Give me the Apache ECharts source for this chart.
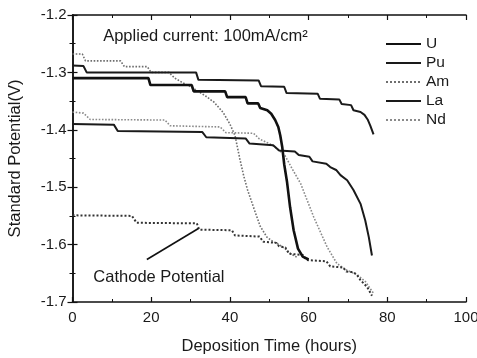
<!DOCTYPE html>
<html>
<head>
<meta charset="utf-8">
<script src="https://cdn.jsdelivr.net/npm/echarts@6/dist/echarts.min.js"></script>
<style>html,body{margin:0;padding:0;background:#fff}#c{width:477px;height:358px}</style>
</head>
<body>
<div id="c"></div>
<script>
// ---- data (hours, V) ----
const uX  = [0, 19.3, 19.8, 30.3, 30.8, 38.8, 39.3, 44, 44.5, 47.2, 47.7, 49.5, 50.5, 51.5, 52.3, 52.8, 53.3, 53.8, 54.5, 55.3, 56.2, 57.3, 58.5, 60];
const uY  = [-1.31, -1.31, -1.322, -1.322, -1.333, -1.333, -1.343, -1.343, -1.354, -1.354, -1.362, -1.366, -1.372, -1.383, -1.395, -1.41, -1.43, -1.46, -1.49, -1.535, -1.575, -1.607, -1.621, -1.626];
const puX = [0, 2.8, 3.6, 31.4, 32, 47.3, 47.9, 53.8, 54.4, 62.3, 62.9, 67.8, 68.4, 70.8, 71.4, 73.2, 74.2, 75, 75.7, 76.5];
const puY = [-1.288, -1.289, -1.300, -1.300, -1.313, -1.314, -1.324, -1.325, -1.336, -1.337, -1.346, -1.347, -1.355, -1.357, -1.366, -1.369, -1.374, -1.382, -1.393, -1.408];
const amX = [0, 2.5, 3.3, 12.2, 13.2, 19, 20, 24.5, 26, 28, 30, 32, 34, 36, 38.3, 40, 41.3, 42.5, 43.5, 44.5, 46, 47.7, 49.4, 51, 52.5, 54, 55.5, 57];
const amY = [-1.268, -1.268, -1.28, -1.28, -1.29, -1.29, -1.30, -1.30, -1.31, -1.318, -1.325, -1.333, -1.342, -1.352, -1.37, -1.39, -1.41, -1.45, -1.48, -1.505, -1.535, -1.568, -1.587, -1.595, -1.60, -1.607, -1.616, -1.622];
const laX = [0, 10.5, 11.5, 33, 34, 44, 45, 51, 52.5, 56.5, 57.5, 60.2, 61, 64.5, 65.5, 67, 68.1, 69.8, 71.4, 73.2, 74.4, 75.3, 76.1];
const laY = [-1.39, -1.391, -1.402, -1.404, -1.413, -1.415, -1.424, -1.427, -1.436, -1.438, -1.444, -1.447, -1.455, -1.459, -1.465, -1.47, -1.479, -1.488, -1.505, -1.529, -1.558, -1.587, -1.619];
const ndX = [0, 2.8, 4.5, 23.5, 24.8, 37.5, 39, 46, 47.5, 50, 51.5, 54, 56, 58, 61.3, 64.7, 67.2, 69.8, 72.3, 74.5, 76.5];
const ndY = [-1.369, -1.371, -1.382, -1.383, -1.393, -1.395, -1.405, -1.406, -1.416, -1.424, -1.43, -1.445, -1.47, -1.494, -1.552, -1.604, -1.633, -1.645, -1.652, -1.665, -1.685];
const caX = [0, 15.1, 16.3, 31.6, 32.2, 40.5, 41.3, 47.5, 48.5, 51.8, 52.5, 54.1, 55, 58.5, 59.5, 64.5, 65.5, 68.8, 69.6, 71.2, 72.2, 73.2, 74.9, 76.1];
const caY = [-1.549, -1.55, -1.562, -1.563, -1.574, -1.575, -1.584, -1.586, -1.595, -1.597, -1.603, -1.605, -1.616, -1.618, -1.627, -1.629, -1.638, -1.64, -1.647, -1.648, -1.652, -1.662, -1.674, -1.689];
const legendNames = ['U', 'Pu', 'Am', 'La', 'Nd'];
const xTicks = {min: 0, max: 100, interval: 20};
const yTicks = {min: -1.7, max: -1.2, interval: 0.1};
const annotationText = 'Applied current: 100mA/cm\u00B2';
const cathodeText = 'Cathode Potential';

const pairs = (xs, ys) => xs.map((x, i) => [x, ys[i]]);
const FONT = 'Arial, "Liberation Sans", sans-serif';
const TXT = '#1a1a1a';

function axisBase(extra) {
  return Object.assign({
    axisLine: {show: true, lineStyle: {color: '#111', width: 1.5}},
    axisTick: {show: true, inside: true, length: 5, lineStyle: {color: '#111', width: 1.2}},
    minorTick: {show: true, splitNumber: 2, length: 3, lineStyle: {color: '#111', width: 1}},
    splitLine: {show: false},
    axisLabel: {show: false}
  }, extra);
}

function lineSeries(name, data, color, width, type, z) {
  return {
    name, type: 'line', data, symbol: 'none', showSymbol: false, z: z || 2,
    lineStyle: {color, width, type}, itemStyle: {color}, animation: false
  };
}

const chart = echarts.init(document.getElementById('c'), null, {renderer: 'canvas'});
const series = [
  lineSeries('U', pairs(uX, uY), '#111', 2.6, 'solid', 5),
  lineSeries('Pu', pairs(puX, puY), '#1a1a1a', 2.0, 'solid', 4),
  lineSeries('Am', pairs(amX, amY), '#6e6e6e', 1.6, 'dotted', 3),
  lineSeries('La', pairs(laX, laY), '#1a1a1a', 2.0, 'solid', 4),
  lineSeries('Nd', pairs(ndX, ndY), '#8a8a8a', 1.6, 'dotted', 3),
  Object.assign(lineSeries('Cathode', pairs(caX, caY), '#333', 2.0, 'dotted', 3), {
    markLine: {
      silent: true, animation: false,
      symbol: ['none', 'arrow'], symbolSize: [0, 9],
      lineStyle: {color: '#111', width: 1.6, type: 'solid'},
      label: {show: false},
      data: [[{coord: [18.9, -1.626]}, {coord: [32, -1.572]}]]
    },
    markPoint: {
      silent: true, animation: false, symbol: 'circle', symbolSize: 0,
      data: [
        {coord: [5.3, -1.658], label: {show: true, formatter: cathodeText, position: 'right', distance: 0,
          color: TXT, fontSize: 16.5, fontFamily: FONT}},
        {coord: [7.8, -1.238], label: {show: true, formatter: annotationText, position: 'right', distance: 0,
          color: TXT, fontSize: 16.5, fontFamily: FONT}}
      ]
    }
  })
];

chart.setOption({
  animation: false,
  backgroundColor: '#fff',
  grid: {left: 72.5, right: 11, top: 15, bottom: 56, containLabel: false, outerBoundsMode: 'none'},
  legend: {
    data: legendNames, orient: 'vertical', left: 385, top: 36, padding: 0,
    itemWidth: 35, itemHeight: 14, itemGap: 3,
    itemStyle: {opacity: 0},
    textStyle: {color: TXT, fontSize: 15.5, fontFamily: FONT}
  },
  xAxis: [
    axisBase({type: 'value', position: 'bottom', min: xTicks.min, max: xTicks.max, interval: xTicks.interval,
      name: 'Deposition Time (hours)', nameLocation: 'middle', nameGap: 36,
      nameTextStyle: {color: TXT, fontSize: 16.5, fontFamily: FONT},
      axisLabel: {show: true, color: TXT, fontSize: 15, fontFamily: FONT, margin: 8}}),
    axisBase({type: 'value', position: 'top', min: xTicks.min, max: xTicks.max, interval: xTicks.interval})
  ],
  yAxis: [
    axisBase({type: 'value', position: 'left', min: yTicks.min, max: yTicks.max, interval: yTicks.interval,
      name: 'Standard Potential(V)', nameLocation: 'middle', nameGap: 49, nameRotate: 90,
      nameTextStyle: {color: TXT, fontSize: 16.5, fontFamily: FONT},
      axisLabel: {show: true, color: TXT, fontSize: 15, fontFamily: FONT, margin: 6,
        formatter: v => v.toFixed(1)}}),
    axisBase({type: 'value', position: 'right', min: yTicks.min, max: yTicks.max, interval: yTicks.interval})
  ],
  series
});
</script>
</body>
</html>
